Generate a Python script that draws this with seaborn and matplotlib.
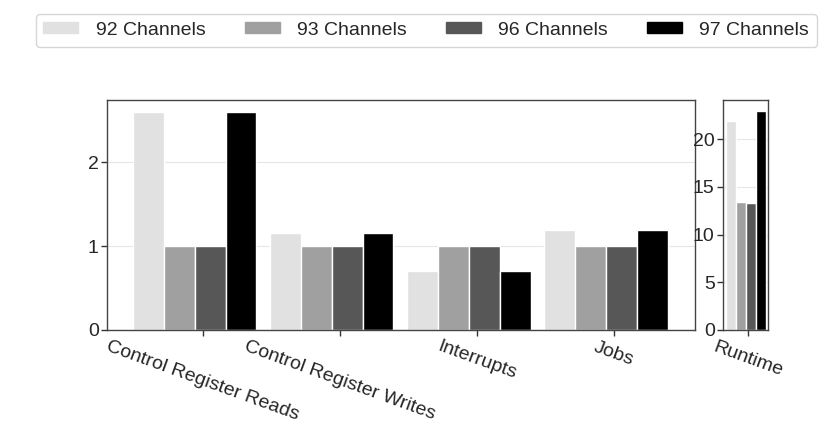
import numpy as np
import pandas as pd
import matplotlib
matplotlib.use("Agg")
import matplotlib.pyplot as plt
import seaborn as sns

# Data
configs = ["92 Channels", "93 Channels", "96 Channels", "97 Channels"]
metrics = ["Control Register Reads", "Control Register Writes", "Interrupts", "Jobs"]
ch92 = [2.60, 1.15, 0.70, 1.19]
ch93 = [1.00, 1.00, 1.00, 1.00]
ch96 = [1.00, 1.00, 1.00, 1.00]
ch97 = [2.60, 1.15, 0.70, 1.19]
runtime = [21.9, 13.4, 13.3, 22.9]
colors = ["#e1e1e1", "#a0a0a0", "#575757", "#000000"]

df = pd.DataFrame({"Metric": metrics * 4,
                   "Config": np.repeat(configs, 4),
                   "Value": ch92 + ch93 + ch96 + ch97})
df_rt = pd.DataFrame({"Metric": ["Runtime"] * 4, "Config": configs, "Value": runtime})

sns.set_style("white")
plt.rcParams["font.family"] = ["Liberation Sans", "DejaVu Sans"]

fig = plt.figure(figsize=(8.31, 4.32), dpi=100)
ax = fig.add_axes([107 / 831, 102 / 432, 588 / 831, 230 / 432])
ax2 = fig.add_axes([723 / 831, 102 / 432, 45 / 831, 230 / 432])

sns.barplot(data=df, x="Metric", y="Value", hue="Config", palette=colors,
            width=0.9, edgecolor="white", linewidth=1, ax=ax, legend=False, zorder=2)
sns.barplot(data=df_rt, x="Metric", y="Value", hue="Config", palette=colors,
            width=0.9, edgecolor="white", linewidth=1, ax=ax2, legend=False, zorder=2)

ax.set_xlim(-0.64, 3.65)
ax.set_ylim(0, 2.74)
ax.set_yticks([0, 1, 2])
ax.set_xticks(np.arange(len(metrics)) + 0.06)
ax.set_xticklabels(metrics, rotation=-20, ha="center")

ax2.set_xlim(-0.52, 0.5)
ax2.set_ylim(0, 24.1)
ax2.set_yticks([0, 5, 10, 15, 20])
ax2.set_xticks([0.04])
ax2.set_xticklabels(["Runtime"], rotation=-20, ha="center")

for a in (ax, ax2):
    a.set_xlabel("")
    a.set_ylabel("")
    a.yaxis.grid(True, color="#e6e6e6", linewidth=0.8, zorder=0)
    a.set_axisbelow(True)
    for s in a.spines.values():
        s.set_color("#444444")
        s.set_linewidth(1.0)
    a.tick_params(axis="both", labelsize=14, length=4, width=1, color="#333333",
                  direction="out", bottom=True, left=True, pad=2)

handles = [plt.Rectangle((0, 0), 1, 1, color=c) for c in colors]
fig.legend(handles, configs, loc="upper center", bbox_to_anchor=(0.513, 0.99), ncol=4,
           fontsize=14, frameon=True, edgecolor="#cccccc", handlelength=1.8,
           handleheight=0.5, handletextpad=0.9, columnspacing=2.0, borderpad=0.4)

fig.savefig("out.png", dpi=100)
